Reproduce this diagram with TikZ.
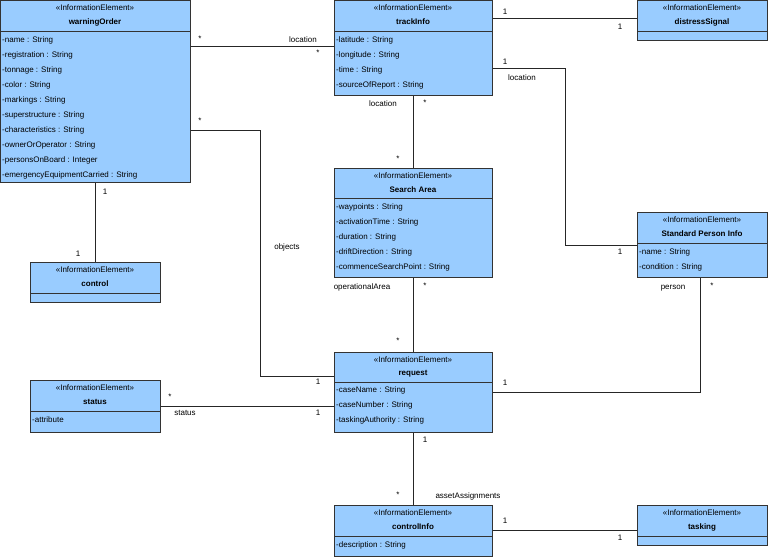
\documentclass[tikz,border=0pt]{standalone}
\usepackage{fontspec}
\setmainfont{Liberation Sans}
\begin{document}
\begin{tikzpicture}[x=1pt,y=-1pt,
  cls/.style={draw=black!80,fill=umlblue,line width=0.6pt,rectangle,inner sep=0pt,anchor=north west},
  att/.style={anchor=west,inner sep=1pt,font=\fontsize{8}{9}\selectfont},
  lab/.style={inner sep=1pt,font=\fontsize{8}{9}\selectfont},
  con/.style={draw=black!85,line width=0.6pt}]
\definecolor{umlblue}{HTML}{99CCFF}
\useasboundingbox (0,0) rectangle (768,557);
\newcommand{\umlcls}[8]{%
  \node[cls,minimum width=#4-#2,minimum height=#5-#3] (#1) at (#2,#3) {};
  \draw[black!80,line width=0.6pt] (#2,#6) -- (#4,#6);
  \node[lab] at ({(#2+#4)/2},#3+8) {<<InformationElement>>};
  \node[lab,font=\fontsize{8}{9}\selectfont\bfseries] at ({(#2+#4)/2},#3+22) {#8};}
\umlcls{wo}{0}{0}{190}{182}{31}{}{warningOrder}
\foreach \t [count=\i from 0] in {-name : String,-registration : String,-tonnage : String,-color : String,-markings : String,-superstructure : String,-characteristics : String,-ownerOrOperator : String,-personsOnBoard : Integer,-emergencyEquipmentCarried : String}
  \node[att] at (1,40+15*\i) {\t};
\umlcls{ti}{334}{0}{492}{95}{31}{}{trackInfo}
\foreach \t [count=\i from 0] in {-latitude : String,-longitude : String,-time : String,-sourceOfReport : String}
  \node[att] at (335,40+15*\i) {\t};
\umlcls{ds}{637}{0}{767}{40}{31}{}{distressSignal}
\umlcls{sa}{334}{168}{492}{277}{198}{}{Search Area}
\foreach \t [count=\i from 0] in {-waypoints : String,-activationTime : String,-duration : String,-driftDirection : String,-commenceSearchPoint : String}
  \node[att] at (335,207+15*\i) {\t};
\umlcls{sp}{637}{212}{767}{277}{243}{}{Standard Person Info}
\node[att] at (638,252) {-name : String};
\node[att] at (638,267) {-condition : String};
\umlcls{ct}{30}{262}{160}{302}{293}{}{control}
\umlcls{rq}{334}{352}{492}{432}{382}{}{request}
\foreach \t [count=\i from 0] in {-caseName : String,-caseNumber : String,-taskingAuthority : String}
  \node[att] at (335,390+15*\i) {\t};
\umlcls{st}{30}{380}{160}{432}{411}{}{status}
\node[att] at (31,420) {-attribute};
\umlcls{ci}{334}{505}{492}{556}{536}{}{controlInfo}
\node[att] at (335,545) {-description : String};
\umlcls{tk}{637}{505}{767}{545}{536}{}{tasking}
% connectors
\draw[con] (wo.east |- 0,46) -- (ti.west |- 0,46);
\node[lab] at (200,39) {*}; \node[lab] at (303,40) {location}; \node[lab] at (318,53) {*};
\draw[con] (ti.east |- 0,18) -- (ds.west |- 0,18);
\node[lab] at (505,12) {1}; \node[lab] at (620,27) {1};
\draw[con] (ti.east |- 0,68) -- (565,68) -- (565,245) -- (sp.west |- 0,245);
\node[lab] at (505,62) {1}; \node[lab] at (522,78) {location}; \node[lab] at (620,252) {1};
\draw[con] (ti.south -| 413,0) -- (sa.north -| 413,0);
\node[lab] at (383,104) {location}; \node[lab] at (425,103) {*}; \node[lab] at (398,159) {*};
\draw[con] (wo.east |- 0,130) -- (260,130) -- (260,376) -- (rq.west |- 0,376);
\node[lab] at (200,121) {*}; \node[lab] at (287,247) {objects}; \node[lab] at (318,382) {1};
\draw[con] (wo.south -| 95,0) -- (ct.north -| 95,0);
\node[lab] at (105,192) {1}; \node[lab] at (78,254) {1};
\draw[con] (sa.south -| 413,0) -- (rq.north -| 413,0);
\node[lab] at (362,287) {operationalArea}; \node[lab] at (425,286) {*}; \node[lab] at (398,341) {*};
\draw[con] (st.east |- 0,406) -- (rq.west |- 0,406);
\node[lab] at (170,397) {*}; \node[lab] at (185,413) {status}; \node[lab] at (318,413) {1};
\draw[con] (rq.east |- 0,392) -- (700,392) -- (sp.south -| 700,0);
\node[lab] at (505,383) {1}; \node[lab] at (673,288) {person}; \node[lab] at (712,286) {*};
\draw[con] (rq.south -| 413,0) -- (ci.north -| 413,0);
\node[lab] at (425,440) {1}; \node[lab] at (398,495) {*}; \node[lab] at (468,496) {assetAssignments};
\draw[con] (ci.east |- 0,530) -- (tk.west |- 0,530);
\node[lab] at (505,521) {1}; \node[lab] at (620,538) {1};
\end{tikzpicture}
\end{document}
